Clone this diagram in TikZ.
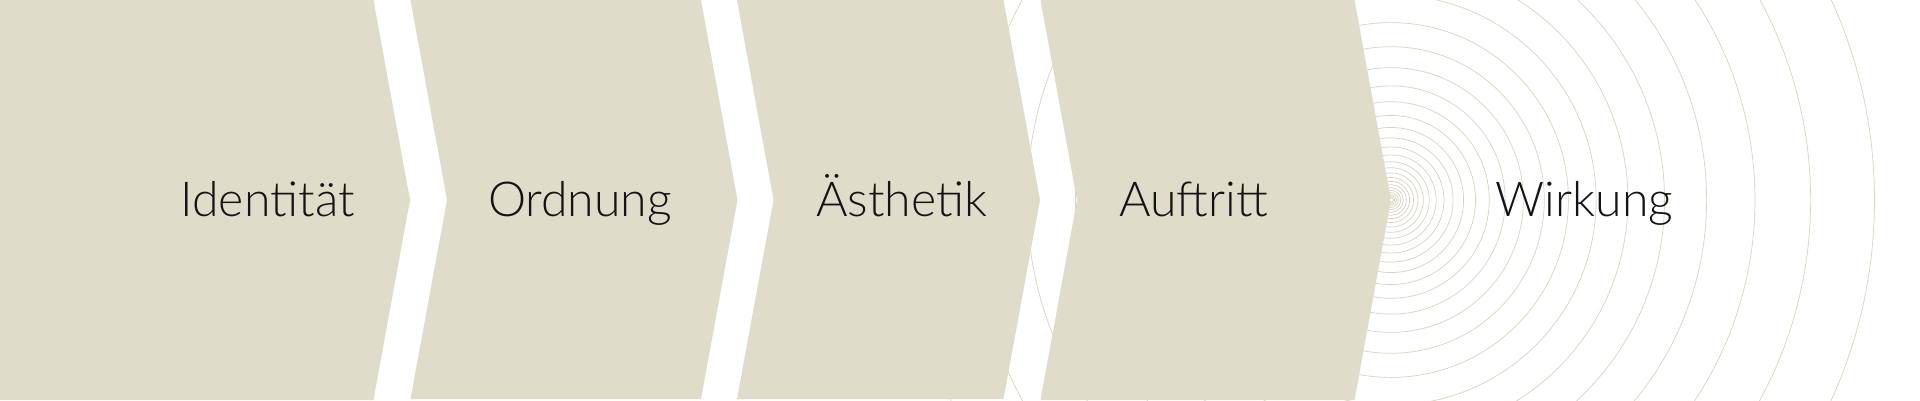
\documentclass[tikz,border=0pt]{standalone}
\usepackage{fontspec}
\newfontfamily\lbl{Lato Light}
\definecolor{chev}{RGB}{223,220,201}
\definecolor{ringc}{RGB}{216,212,190}
\definecolor{txt}{RGB}{20,20,20}
\begin{document}
\begin{tikzpicture}[x=1pt,y=-1pt,
  chevron/.style={fill=chev,draw=none},
  ring/.style={draw=ringc,line width=0.7pt},
  lab/.style={anchor=base,inner sep=0pt,text=txt,font=\lbl\fontsize{48.2}{50}\selectfont}]
\useasboundingbox (0,0) rectangle (1920,400);
\fill[white] (0,0) rectangle (1920,400);
\coordinate (ctr) at (1391,200);
% ripple rings
\foreach \n in {0,...,29}{
  \draw[ring] (ctr) circle[radius={(491*exp(-0.13954*\n)-7.5)*1pt}];
}
% chevrons
\fill[chevron] (0,0) -- (373.5,0) -- (410,200) -- (373.5,400) -- (0,400) -- cycle;
\fill[chevron] (410.5,0) -- (701,0) -- (737.5,200) -- (701,399) -- (410.5,399) -- (447,200) -- cycle;
\fill[chevron] (737,0) -- (1003.5,0) -- (1040,200) -- (1003.5,399) -- (737,399) -- (773.5,200) -- cycle;
\fill[chevron] (1040.5,0) -- (1354.5,0) -- (1391,200) -- (1354.5,400) -- (1040.5,400) -- (1077,200) -- cycle;
\fill[white] (ctr) circle[radius=1.5pt];
% labels
\node[lab] (t1) at (267.5,216.7) {Identität};
\node[lab] (t2) at (580,216.7) {Ordnung};
\node[lab] (t3) at (901.7,216.7) {Ästhetik};
\node[lab] (t4) at (1193.7,216.7) {Auftritt};
\node[lab] (t5) at (1584.5,216.7) {Wirkung};
\end{tikzpicture}
\end{document}
